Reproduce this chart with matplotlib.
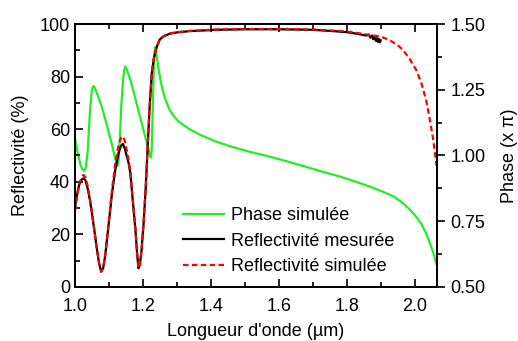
import matplotlib.pyplot as plt
from matplotlib.ticker import MultipleLocator

plt.rcParams['font.family'] = ['Liberation Sans', 'DejaVu Sans']

# Simulated phase (units of pi), right axis
phase_x = [1.000, 1.008, 1.016, 1.022, 1.027, 1.032, 1.037, 1.041, 1.045, 1.049, 1.052,
           1.055, 1.059, 1.067, 1.079, 1.095, 1.110, 1.118, 1.122, 1.125, 1.128, 1.132,
           1.136, 1.141, 1.145, 1.148, 1.152, 1.165, 1.185, 1.205, 1.217, 1.221, 1.224,
           1.226, 1.229, 1.232, 1.234, 1.236, 1.239, 1.245, 1.252, 1.260, 1.269, 1.279,
           1.290, 1.304, 1.319, 1.340, 1.368, 1.417, 1.465, 1.515, 1.570, 1.632, 1.680,
           1.730, 1.780, 1.828, 1.870, 1.907, 1.940, 1.966, 1.987, 2.005, 2.020, 2.034,
           2.045, 2.055, 2.065]
phase_y = [1.062, 1.010, 0.965, 0.946, 0.942, 0.955, 1.010, 1.100, 1.185, 1.240, 1.260,
           1.264, 1.255, 1.228, 1.185, 1.110, 1.035, 0.990, 0.968, 0.960, 0.972, 1.060,
           1.185, 1.280, 1.325, 1.338, 1.330, 1.280, 1.180, 1.080, 1.020, 0.998, 0.992,
           1.030, 1.185, 1.330, 1.390, 1.411, 1.395, 1.338, 1.285, 1.240, 1.203, 1.173,
           1.151, 1.131, 1.116, 1.098, 1.079, 1.052, 1.032, 1.014, 0.997, 0.975, 0.957,
           0.938, 0.920, 0.900, 0.881, 0.862, 0.843, 0.818, 0.793, 0.767, 0.740, 0.704,
           0.668, 0.630, 0.586]

# Measured reflectivity (%)
meas_x = [1.000, 1.006, 1.012, 1.019, 1.025, 1.031, 1.038, 1.044, 1.050, 1.058, 1.065,
          1.071, 1.077, 1.083, 1.089, 1.094, 1.101, 1.109, 1.118, 1.128, 1.135, 1.141,
          1.147, 1.153, 1.158, 1.163, 1.170, 1.178, 1.183, 1.187, 1.191, 1.196, 1.202,
          1.208, 1.215, 1.220, 1.226, 1.233, 1.241, 1.250, 1.262, 1.279, 1.300, 1.338,
          1.417, 1.500, 1.600, 1.700, 1.760, 1.800, 1.830, 1.858, 1.865, 1.870, 1.875,
          1.878, 1.882, 1.886, 1.889, 1.892, 1.895, 1.898, 1.900]
meas_y = [30.5, 35, 38.8, 40.8, 41.3, 40.5, 37, 33, 28, 20.5, 14,
          9, 5.8, 7.2, 12, 17.9, 26, 35.6, 44, 50.8, 53.6, 54.4,
          52.5, 49.5, 47, 43.2, 33, 21.7, 12.5, 7.1, 8.5, 14, 24.2,
          37, 55.9, 69, 81.2, 87.5, 91.4, 94.2, 95.4, 96.3, 96.8, 97.3,
          97.8, 98.0, 98.0, 97.8, 97.3, 96.9, 96.3, 95.6, 96.0, 94.8, 95.6,
          94.2, 95.2, 93.6, 94.7, 93.2, 94.3, 93.0, 93.8]

# Simulated reflectivity (%)
sim_x = [1.000, 1.006, 1.012, 1.019, 1.025, 1.031, 1.038, 1.044, 1.050, 1.058, 1.065,
         1.071, 1.077, 1.083, 1.089, 1.094, 1.101, 1.109, 1.118, 1.128, 1.135, 1.141,
         1.147, 1.153, 1.158, 1.163, 1.170, 1.178, 1.183, 1.187, 1.191, 1.196, 1.202,
         1.208, 1.215, 1.220, 1.226, 1.233, 1.241, 1.250, 1.262, 1.279, 1.300, 1.338,
         1.417, 1.500, 1.600, 1.700, 1.760, 1.800, 1.850, 1.900, 1.926, 1.950, 1.966,
         1.985, 2.005, 2.020, 2.034, 2.044, 2.055, 2.065]
sim_y = [29, 34.5, 38.8, 41.8, 42.6, 41.7, 38, 33.5, 28.3, 20.5, 14,
         9, 5.9, 7.3, 12.3, 18.3, 27, 37, 46.5, 53.8, 56.6, 57.3,
         55.5, 51.5, 48, 44, 33.5, 21.8, 12.5, 7.2, 8.6, 14.2, 24.5,
         37.5, 56.5, 69.5, 81.5, 87.8, 91.6, 94.3, 95.5, 96.4, 96.9, 97.4,
         97.9, 98.1, 98.1, 97.9, 97.5, 97.2, 96.2, 95.2, 93.9, 92.0, 90.1,
         86.8, 82.5, 77.5, 71.1, 64.3, 56, 46]

fig = plt.figure(figsize=(5.18, 3.41), dpi=100)
ax = fig.add_axes([0.1448, 0.1584, 0.6988, 0.7712])
ax2 = ax.twinx()

l1, = ax2.plot(phase_x, phase_y, color='#22ee22', lw=1.6)
l2, = ax.plot(meas_x, meas_y, color='black', lw=1.6)
l3, = ax.plot(sim_x, sim_y, color='red', lw=1.6, ls=(0, (2.5, 1.5)))
ax.set_zorder(ax2.get_zorder() + 1)
ax.patch.set_visible(False)

ax.set_xlim(1.0, 2.066)
ax.set_ylim(0, 100)
ax2.set_ylim(0.5, 1.5)

ax.xaxis.set_major_locator(MultipleLocator(0.2))
ax.xaxis.set_minor_locator(MultipleLocator(0.1))
ax.yaxis.set_major_locator(MultipleLocator(20))
ax.yaxis.set_minor_locator(MultipleLocator(10))
ax2.yaxis.set_major_locator(MultipleLocator(0.25))
ax2.yaxis.set_minor_locator(MultipleLocator(0.125))
ax.xaxis.set_major_formatter(plt.FormatStrFormatter('%.1f'))
ax2.yaxis.set_major_formatter(plt.FormatStrFormatter('%.2f'))

ax.tick_params(which='both', direction='in', top=True, labelsize=13, width=1.2)
ax.tick_params(which='major', length=6)
ax.tick_params(which='minor', length=3.5)
ax.tick_params(axis='x', pad=8)
ax2.tick_params(which='both', direction='out', labelsize=13, width=1.2)
ax2.tick_params(which='major', length=6)
ax2.tick_params(which='minor', length=3.5)
for a in (ax, ax2):
    for s in a.spines.values():
        s.set_linewidth(1.3)

ax.set_xlabel("Longueur d'onde (µm)", fontsize=13, labelpad=6)
ax.set_ylabel("Reflectivité (%)", fontsize=13, labelpad=8)
ax2.set_ylabel("Phase (x π)", fontsize=13, labelpad=11)

fig.legend([l1, l2, l3], ['Phase simulée', 'Reflectivité mesurée', 'Reflectivité simulée'],
           loc='upper left', bbox_to_anchor=(0.353, 0.392), frameon=False, fontsize=13,
           handlelength=2.3, handletextpad=0.35, labelspacing=0.47, borderpad=0, borderaxespad=0)

fig.savefig('out.png', dpi=100)
